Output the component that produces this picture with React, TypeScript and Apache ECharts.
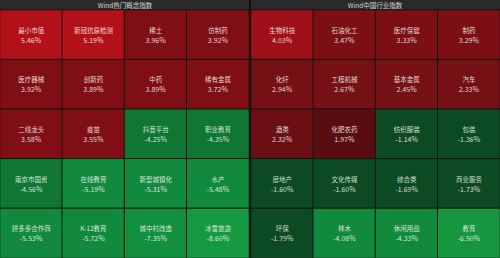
import React, { useEffect, useRef } from "react";
import * as echarts from "echarts";

const columns = ["c1", "c2", "c3", "c4"];
const rows = ["r1", "r2", "r3", "r4", "r5"];

const leftTitle = "Wind热门概念指数";
const rightTitle = "Wind中国行业指数";

const leftNames = [
  "最小市值", "新冠抗原检测", "稀土", "仿制药",
  "医疗器械", "创新药", "中药", "稀有金属",
  "二线龙头", "疫苗", "抖音平台", "职业教育",
  "南京市国资", "在线教育", "新型城镇化", "水产",
  "拼多多合作商", "K-12教育", "城中村改造", "冰雪旅游",
];
const leftValues = [
  5.46, 5.19, 3.96, 3.92,
  3.92, 3.89, 3.89, 3.72,
  3.58, 3.55, -4.25, -4.35,
  -4.56, -5.19, -5.31, -5.48,
  -5.53, -5.72, -7.35, -8.6,
];

const rightNames = [
  "生物科技", "石油化工", "医疗保健", "制药",
  "化纤", "工程机械", "基本金属", "汽车",
  "酒类", "化肥农药", "纺织服装", "包装",
  "房地产", "文化传媒", "综合类", "商业服务",
  "环保", "林木", "休闲用品", "教育",
];
const rightValues = [
  4.03, 3.47, 3.33, 3.29,
  2.94, 2.67, 2.45, 2.33,
  2.32, 1.97, -1.14, -1.36,
  -1.6, -1.6, -1.69, -1.73,
  -1.79, -4.08, -4.33, -6.5,
];

function toData(names: string[], values: number[]) {
  return values.map((v, i) => ({
    value: [i % 4, Math.floor(i / 4), v],
    name: names[i],
  }));
}

const FONT = "'Noto Sans CJK SC', 'Noto Sans', sans-serif";

export default function App() {
  const ref = useRef<HTMLDivElement>(null);
  useEffect(() => {
    document.body.style.margin = "0";
    const chart = echarts.init(ref.current!, undefined, { renderer: "svg" });
    const axisBase = (gridIndex: number) => ({
      gridIndex,
      show: false,
    });
    const label = {
      show: true,
      color: "rgba(255,255,255,0.82)",
      fontFamily: FONT,
      formatter: (p: any) => `{n|${p.name}}\n{v|${p.value[2].toFixed(2)}%}`,
      rich: {
        n: { fontSize: 6.5, lineHeight: 10, fontFamily: FONT, color: "rgba(255,255,255,0.82)" },
        v: { fontSize: 7, lineHeight: 10, fontFamily: FONT, color: "rgba(255,255,255,0.82)" },
      },
    };
    const itemStyle = { borderColor: "#141414", borderWidth: 1 };
    chart.setOption({
      animation: false,
      backgroundColor: "#161616",
      grid: [
        { left: 0, top: 10, width: 249, height: 255 },
        { left: 251, top: 10, width: 249, height: 255 },
      ],
      xAxis: [
        { type: "category", data: columns, ...axisBase(0) },
        { type: "category", data: columns, ...axisBase(1) },
      ],
      yAxis: [
        { type: "category", data: rows, inverse: true, ...axisBase(0) },
        { type: "category", data: rows, inverse: true, ...axisBase(1) },
      ],
      visualMap: [
        {
          type: "piecewise",
          show: false,
          seriesIndex: 0,
          dimension: 2,
          pieces: [
            { gte: 5, color: "#b3111a" },
            { gte: 3.5, lt: 5, color: "#7f0f15" },
            { gte: -4.6, lt: 0, color: "#0f7634" },
            { gte: -6, lt: -4.6, color: "#128a3d" },
            { gte: -8, lt: -6, color: "#13903e" },
            { lt: -8, color: "#159a42" },
          ],
        },
        {
          type: "piecewise",
          show: false,
          seriesIndex: 1,
          dimension: 2,
          pieces: [
            { gte: 4, color: "#9e1118" },
            { gte: 3, lt: 4, color: "#7c0f14" },
            { gte: 2.33, lt: 3, color: "#751014" },
            { gte: 2.1, lt: 2.33, color: "#6c0f13" },
            { gte: 0, lt: 2.1, color: "#5a0d11" },
            { gte: -2, lt: 0, color: "#0b4a22" },
            { gte: -5, lt: -2, color: "#128a3c" },
            { lt: -5, color: "#16963f" },
          ],
        },
      ],
      graphic: [
        { type: "rect", shape: { x: 0, y: 0, width: 500, height: 10 }, style: { fill: "#2b2b2b" }, silent: true },
        { type: "rect", shape: { x: 249, y: 0, width: 2, height: 258 }, style: { fill: "#111111" }, silent: true },
        {
          type: "text", x: 125, y: 5,
          style: { text: leftTitle, fill: "#d2d2d2", fontSize: 6.5, fontFamily: FONT, align: "center", verticalAlign: "middle" },
        },
        {
          type: "text", x: 375, y: 5,
          style: { text: rightTitle, fill: "#d2d2d2", fontSize: 6.5, fontFamily: FONT, align: "center", verticalAlign: "middle" },
        },
      ],
      series: [
        {
          type: "heatmap",
          xAxisIndex: 0,
          yAxisIndex: 0,
          data: toData(leftNames, leftValues),
          label,
          itemStyle,
          emphasis: { disabled: true },
        },
        {
          type: "heatmap",
          xAxisIndex: 1,
          yAxisIndex: 1,
          data: toData(rightNames, rightValues),
          label,
          itemStyle,
          emphasis: { disabled: true },
        },
      ],
    });
    return () => chart.dispose();
  }, []);
  return (
    <div
      ref={ref}
      style={{ position: "fixed", left: 0, top: 0, width: 500, height: 258 }}
    />
  );
}
